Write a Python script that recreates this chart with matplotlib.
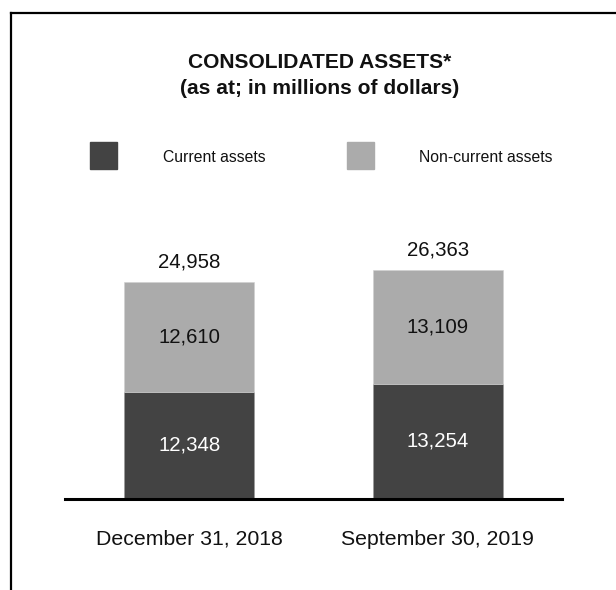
import matplotlib.pyplot as plt
from matplotlib.lines import Line2D
from matplotlib.patches import Rectangle

plt.rcParams['font.family'] = ['Liberation Sans', 'DejaVu Sans']

dates = ['December 31, 2018', 'September 30, 2019']
current = [12348, 13254]
non_current = [12610, 13109]
totals = [24958, 26363]

dark = '#434343'
light = '#ababab'

W, H = 616, 590
fig = plt.figure(figsize=(W / 100, H / 100), dpi=100)

# axes spans the baseline: x 65..562 px, y from 499 px up
ax = fig.add_axes([65 / W, 1 - 499 / H, 497 / W, 299 / H])
x = range(len(dates))
ax.bar(x, current, width=0.523, color=dark, edgecolor='#9a9a9a', linewidth=0.4)
ax.bar(x, non_current, width=0.523, bottom=current, color=light,
       edgecolor='#d0d0d0', linewidth=0.4)
ax.set_xlim(-0.5, 1.5)
ax.set_ylim(0, 299 / (217 / totals[0]))

for i in x:
    ax.text(i, current[i] / 2, f'{current[i]:,}', ha='center', va='center',
            color='white', fontsize=14.7)
    ax.text(i, current[i] + non_current[i] / 2, f'{non_current[i]:,}',
            ha='center', va='center', color='#111111', fontsize=14.7)
    ax.annotate(f'{totals[i]:,}', (i, totals[i]), xytext=(0, 14.5),
                textcoords='offset points', ha='center', va='center',
                color='#111111', fontsize=14.7)

for s in ['top', 'right', 'left']:
    ax.spines[s].set_visible(False)
ax.spines['bottom'].set_linewidth(2.2)
ax.spines['bottom'].set_color('black')
ax.set_yticks([])
ax.set_xticks(list(x))
ax.set_xticklabels(dates, fontsize=15.3, color='#111111')
ax.tick_params(axis='x', length=0, pad=22)

# title
fig.text(320 / W, 1 - 63 / H, 'CONSOLIDATED ASSETS*', ha='center', va='center',
         fontsize=15.1, fontweight='bold', color='#111111')
fig.text(320 / W, 1 - 88 / H, '(as at; in millions of dollars)', ha='center',
         va='center', fontsize=15.1, fontweight='bold', color='#111111')

# legend
for sx, tx, col, lab in [(90, 163, dark, 'Current assets'),
                         (347, 419, light, 'Non-current assets')]:
    fig.add_artist(Rectangle((sx / W, 1 - 169 / H), 27 / W, 27 / H,
                             transform=fig.transFigure, color=col))
    fig.text(tx / W, 1 - 158 / H, lab, ha='left', va='center',
             fontsize=11.3, color='#111111')

# frame lines on the left and top
fy = 1 - 12.5 / H
fx = 10.5 / W
fig.add_artist(Line2D([fx, fx], [0, fy], transform=fig.transFigure,
                      color='black', linewidth=1.6))
fig.add_artist(Line2D([fx, 1], [fy, fy], transform=fig.transFigure,
                      color='black', linewidth=1.6))

fig.savefig('out.png', dpi=100)
